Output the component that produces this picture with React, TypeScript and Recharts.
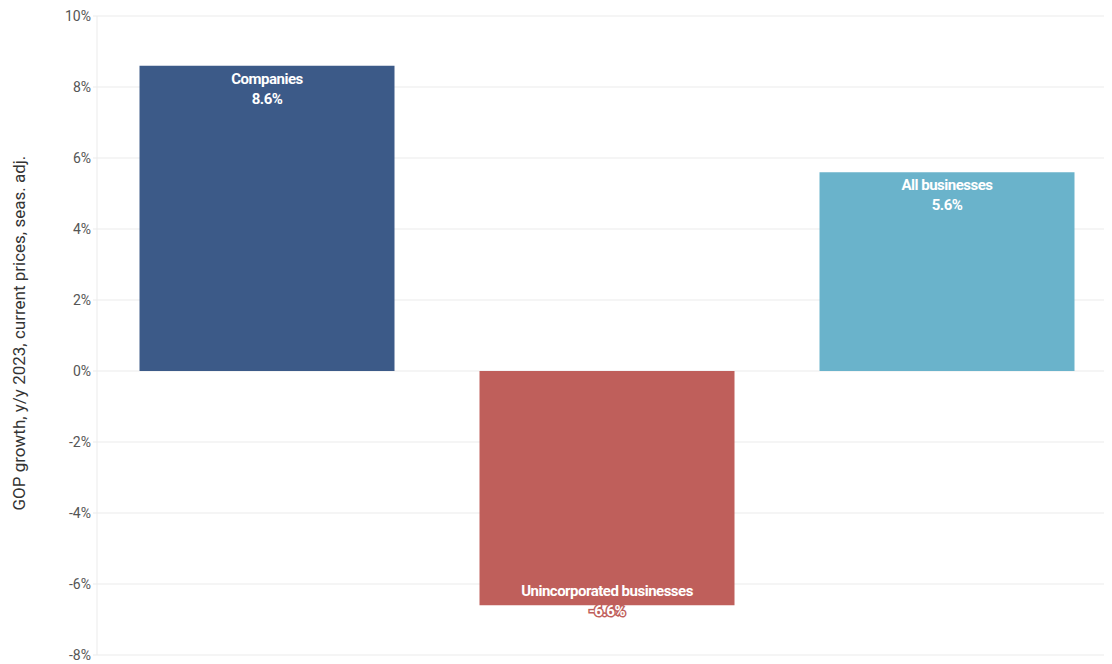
import React from 'react';
import { BarChart, Bar, XAxis, YAxis, CartesianGrid, Cell, LabelList } from 'recharts';

const categories = ['Companies', 'Unincorporated businesses', 'All businesses'];
const growth = [8.6, -6.6, 5.6];
const barColors = ['#3c5a88', '#bf5f5b', '#6ab3cb'];
const yTicks = [-8, -6, -4, -2, 0, 2, 4, 6, 8, 10];

const data = categories.map((name, i) => ({ name, value: growth[i], color: barColors[i] }));

const BarLabel: React.FC<any> = (props) => {
  const { x, y, width, height, index } = props;
  const d = data[index];
  const top = Math.min(y, y + height);
  const bottom = Math.max(y, y + height);
  const cx = x + width / 2;
  const base = d.value >= 0 ? top + 18 : bottom - 9;
  const common = {
    x: cx,
    textAnchor: 'middle' as const,
    fill: '#fff',
    stroke: d.color,
    strokeWidth: 3,
    paintOrder: 'stroke' as const,
    fontFamily: 'Roboto',
    fontWeight: 700,
    fontSize: 15,
    letterSpacing: -0.5,
  };
  return (
    <g>
      <text {...common} y={base}>{d.name}</text>
      <text {...common} y={base + 20}>{d.value.toFixed(1)}%</text>
    </g>
  );
};

export default function App() {
  return (
    <div style={{ width: 1104, height: 656, overflow: 'hidden' }}>
      <BarChart width={1110} height={656} data={data} margin={{ top: 8, right: 1, bottom: 9, left: 0 }} barCategoryGap="12.5%">
        <CartesianGrid vertical={false} stroke="#ebebeb" />
        <XAxis dataKey="name" hide />
        <YAxis
          domain={[-8, 10]}
          ticks={yTicks}
          width={89}
          tickFormatter={(v) => `${v}%`}
          tick={{ fill: '#555', fontSize: 14, fontFamily: 'Roboto' }}
          axisLine={{ stroke: '#ebebeb' }}
          tickLine={{ stroke: '#ebebeb' }}
          tickSize={4}
          label={{
            value: 'GOP growth, y/y 2023, current prices, seas. adj.',
            angle: -90,
            position: 'insideLeft',
            dx: 6,
            dy: 175,
            style: { fill: '#333', fontSize: 17, fontFamily: 'Roboto' },
          }}
        />
        <Bar dataKey="value" isAnimationActive={false}>
          {data.map((d) => (
            <Cell key={d.name} fill={d.color} />
          ))}
          <LabelList dataKey="value" content={<BarLabel />} />
        </Bar>
      </BarChart>
    </div>
  );
}
